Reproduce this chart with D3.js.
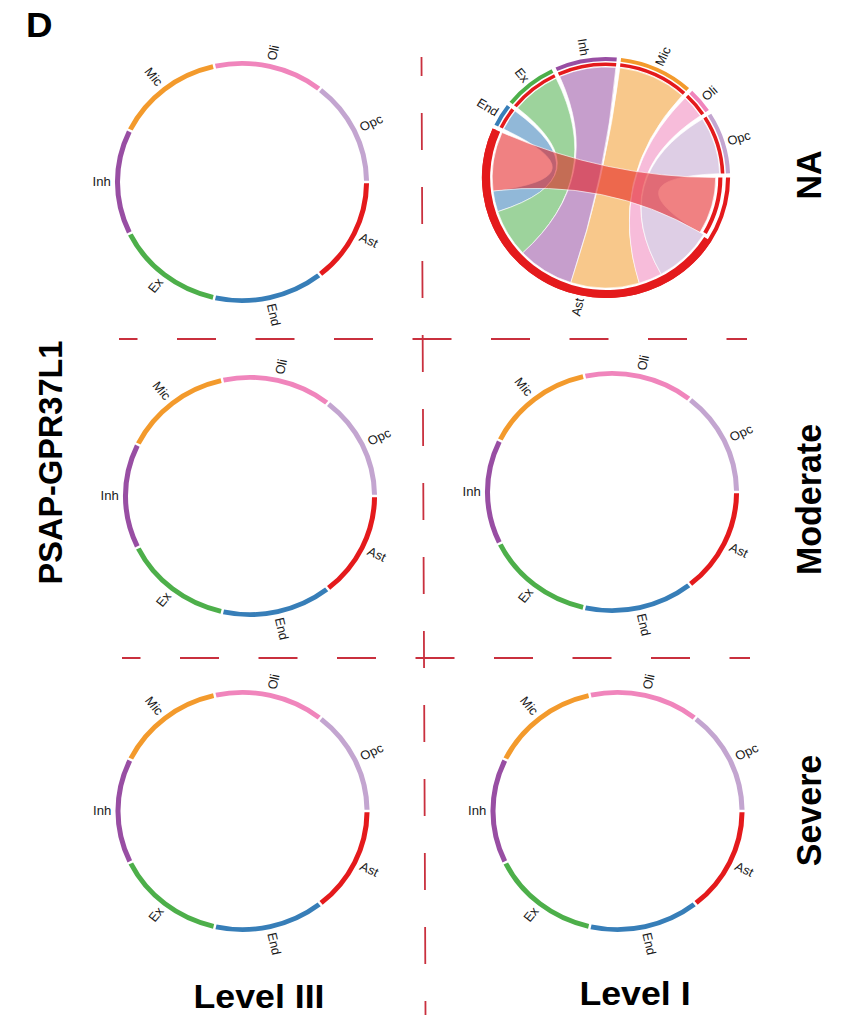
<!DOCTYPE html>
<html>
<head>
<meta charset="utf-8">
<script src="https://cdn.jsdelivr.net/npm/d3@7"></script>
<style>
  body { margin: 0; background: #fff; }
  svg { display: block; }
</style>
</head>
<body>
<svg id="fig" width="861" height="1015"></svg>
<script>
// ---- data -----------------------------------------------------------
const cellTypes = ["Ast", "End", "Ex", "Inh", "Mic", "Oli", "Opc"];
const cellColors = ["#E41A1C", "#377EB8", "#4DAF4A", "#984EA3", "#F39A2C", "#F085BC", "#C3A5D0"];
const levelLabels = ["Level III", "Level I"];
const severityLabels = ["NA", "Moderate", "Severe"];
const geneLabel = "PSAP-GPR37L1";
const panelLetter = "D";
// PSAP-GPR37L1 communication weights with Ast as the receiving cell type,
// one per partner in cellTypes order (first entry = Ast autocrine loop)
const astLinkWeights = [31, 11, 25, 29, 35, 12, 30];
// which (severity, level) panel carries links; every other panel has none
const linkedPanel = { severity: "NA", level: "Level I" };

// ---- layout ---------------------------------------------------------
const stretchX = 1.05;               // figure is slightly wider than tall
const svg = d3.select("#fig");
const FONT = "'Liberation Sans', Arial, Helvetica, sans-serif";
const lineRed = "#C9303E";

const gridX = d3.scalePoint().domain(levelLabels).range([244, 612]);
const gridY = d3.scalePoint().domain(severityLabels).range([181, 811]);
// small per-panel offsets of the original composite
const panelNudge = {
  "NA|Level III": [-2, 1], "NA|Level I": [-6, -3.5],
  "Moderate|Level III": [6, 0], "Moderate|Level I": [0, -4],
  "Severe|Level III": [-1.5, 0], "Severe|Level I": [5.5, 0]
};

const deg = Math.PI / 180;
const color = d3.scaleOrdinal().domain(cellTypes).range(cellColors);

function labelTransform(angle, r) {
  const a = angle / deg;
  const flip = ((a % 360) + 360) % 360 > 180;
  return `rotate(${a - 90}) translate(${r},0)` + (flip ? " rotate(180)" : "");
}
function labelAnchor(angle) {
  const a = ((angle / deg) % 360 + 360) % 360;
  return a > 180 ? "end" : "start";
}

// ---- dashed grid ----------------------------------------------------
const grid = svg.append("g").attr("stroke", lineRed).attr("stroke-width", 1.8).attr("fill", "none");
grid.append("line").attr("x1", 421.5).attr("y1", 57).attr("x2", 425.5).attr("y2", 1015)
  .attr("stroke-dasharray", "37,37").attr("stroke-dashoffset", 18);
[[339, 119, 747], [658, 122, 750]].forEach(([y, x1, x2]) => {
  grid.append("line").attr("x1", x1).attr("y1", y).attr("x2", x2).attr("y2", y)
    .attr("stroke-dasharray", "39,39.5").attr("stroke-dashoffset", 20.5);
});

// ---- empty chord ring -----------------------------------------------
function drawEmptyRing(g, R) {
  const pie = d3.pie().value(() => 1).sort(null)
    .startAngle(Math.PI / 2).endAngle(Math.PI / 2 + 2 * Math.PI);
  const arcs = pie(cellTypes);
  const arc = d3.arc().innerRadius(R - 4.8).outerRadius(R).padAngle(0.014);
  g.selectAll("path.grp").data(arcs).join("path").attr("class", "grp")
    .attr("d", arc).attr("fill", d => color(d.data));
  g.selectAll("text.lbl").data(arcs).join("text").attr("class", "lbl")
    .attr("transform", d => labelTransform((d.startAngle + d.endAngle) / 2, R + 4))
    .attr("text-anchor", d => labelAnchor((d.startAngle + d.endAngle) / 2))
    .attr("dy", "0.35em")
    .attr("font-family", FONT).attr("font-size", 12.5).attr("fill", "#1a1a1a")
    .text(d => d.data);
}

// ---- chord panel ----------------------------------------------------
function drawChordPanel(g, R, weights) {
  const gap = 2 * deg;
  const selfW = weights[0];
  const sectorVals = cellTypes.map((c, i) => i === 0 ? d3.sum(weights) + selfW : weights[i]);
  const span = d3.scaleLinear().domain([0, d3.sum(sectorVals)])
    .range([0, 2 * Math.PI - gap * cellTypes.length]);

  let a = Math.PI / 2;
  const sectors = sectorVals.map((v, i) => {
    const s = { index: i, name: cellTypes[i], startAngle: a, endAngle: a + span(v) };
    a += span(v) + gap;
    return s;
  });

  // blocks inside the Ast sector: loop end, partners (reverse order), loop start
  const astOrder = ["loopIn"].concat(d3.range(cellTypes.length - 1, 0, -1), ["loopOut"]);
  const astBlocks = {};
  let b = sectors[0].startAngle;
  astOrder.forEach(key => {
    const w = (key === "loopIn" || key === "loopOut") ? selfW : weights[key];
    astBlocks[key] = { startAngle: b, endAngle: b + span(w) };
    b += span(w);
  });

  const rOuterIn = R - 4, rInnerOut = R - 5.5, rInnerIn = R - 9, rChord = R - 10, rLoopIn = R - 14;

  const links = [];
  for (let i = 1; i < cellTypes.length; i++) {
    links.push({
      color: cellColors[i],
      source: { startAngle: sectors[i].startAngle, endAngle: sectors[i].endAngle, radius: rChord },
      target: { startAngle: astBlocks[i].startAngle, endAngle: astBlocks[i].endAngle, radius: rChord }
    });
  }
  links.push({
    color: cellColors[0],
    source: { startAngle: astBlocks.loopOut.startAngle, endAngle: astBlocks.loopOut.endAngle, radius: rChord },
    target: { startAngle: astBlocks.loopIn.startAngle, endAngle: astBlocks.loopIn.endAngle, radius: rLoopIn }
  });

  const ribbon = d3.ribbon().radius(d => d.radius);
  g.append("g").selectAll("path").data(links).join("path")
    .attr("d", d => ribbon(d))
    .attr("fill", d => d.color).attr("fill-opacity", 0.55)
    .attr("stroke", "#fff").attr("stroke-width", 0.7).attr("stroke-opacity", 0.9);

  // outer colour track
  const outer = d3.arc().innerRadius(rOuterIn).outerRadius(R);
  g.append("g").selectAll("path").data(sectors).join("path")
    .attr("d", outer).attr("fill", d => color(d.name));

  // inner partner track (all partners are Ast)
  const innerSegs = sectors.slice(1).map(s => ({ startAngle: s.startAngle, endAngle: s.endAngle, r0: rInnerIn, r1: rInnerOut }));
  innerSegs.push({ startAngle: astBlocks.loopIn.startAngle, endAngle: astBlocks.loopIn.endAngle - 1 * deg, r0: rLoopIn + 2.5, r1: rInnerOut - 2 });
  innerSegs.push({ startAngle: astBlocks.loopIn.endAngle + 1 * deg, endAngle: sectors[0].endAngle, r0: R - 8, r1: R });
  g.append("g").selectAll("path").data(innerSegs).join("path")
    .attr("d", d => d3.arc().innerRadius(d.r0).outerRadius(d.r1)(d))
    .attr("fill", cellColors[0]);

  g.selectAll("text.lbl").data(sectors).join("text").attr("class", "lbl")
    .attr("transform", d => labelTransform((d.startAngle + d.endAngle) / 2, R + 3))
    .attr("text-anchor", d => labelAnchor((d.startAngle + d.endAngle) / 2))
    .attr("dy", "0.35em")
    .attr("font-family", FONT).attr("font-size", 12.5).attr("fill", "#1a1a1a")
    .text(d => d.name);
}

// ---- panels ---------------------------------------------------------
severityLabels.forEach(sev => {
  levelLabels.forEach(lev => {
    const [dx, dy] = panelNudge[sev + "|" + lev];
    const cx = gridX(lev) + dx, cy = gridY(sev) + dy;
    const linked = sev === linkedPanel.severity && lev === linkedPanel.level;
    const g = svg.append("g")
      .attr("transform", `translate(${cx},${cy}) scale(${linked ? 1.03 : stretchX},1)`);
    if (linked) drawChordPanel(g, 120.5, astLinkWeights);
    else drawEmptyRing(g, 121);
  });
});

// ---- titles ---------------------------------------------------------
function boldText(x, y, txt, size, rotate, anchor) {
  svg.append("text")
    .attr("transform", `translate(${x},${y}) scale(${stretchX},1)` + (rotate ? ` rotate(${rotate})` : ""))
    .attr("text-anchor", anchor || "middle")
    .attr("font-family", FONT).attr("font-weight", "bold").attr("font-size", size)
    .attr("fill", "#000").text(txt);
}
boldText(26, 37, panelLetter, 35, 0, "start");
boldText(61.5, 462.5, geneLabel, 32.5, -90);
const rowLabelY = { "NA": 175, "Moderate": 499.5, "Severe": 810.5 };
severityLabels.forEach(s => boldText(821, rowLabelY[s], s, 34, -90));
const colLabelPos = { "Level III": [259, 1008], "Level I": [635, 1005] };
levelLabels.forEach(l => boldText(colLabelPos[l][0], colLabelPos[l][1], l, 34, 0));
</script>
</body>
</html>
